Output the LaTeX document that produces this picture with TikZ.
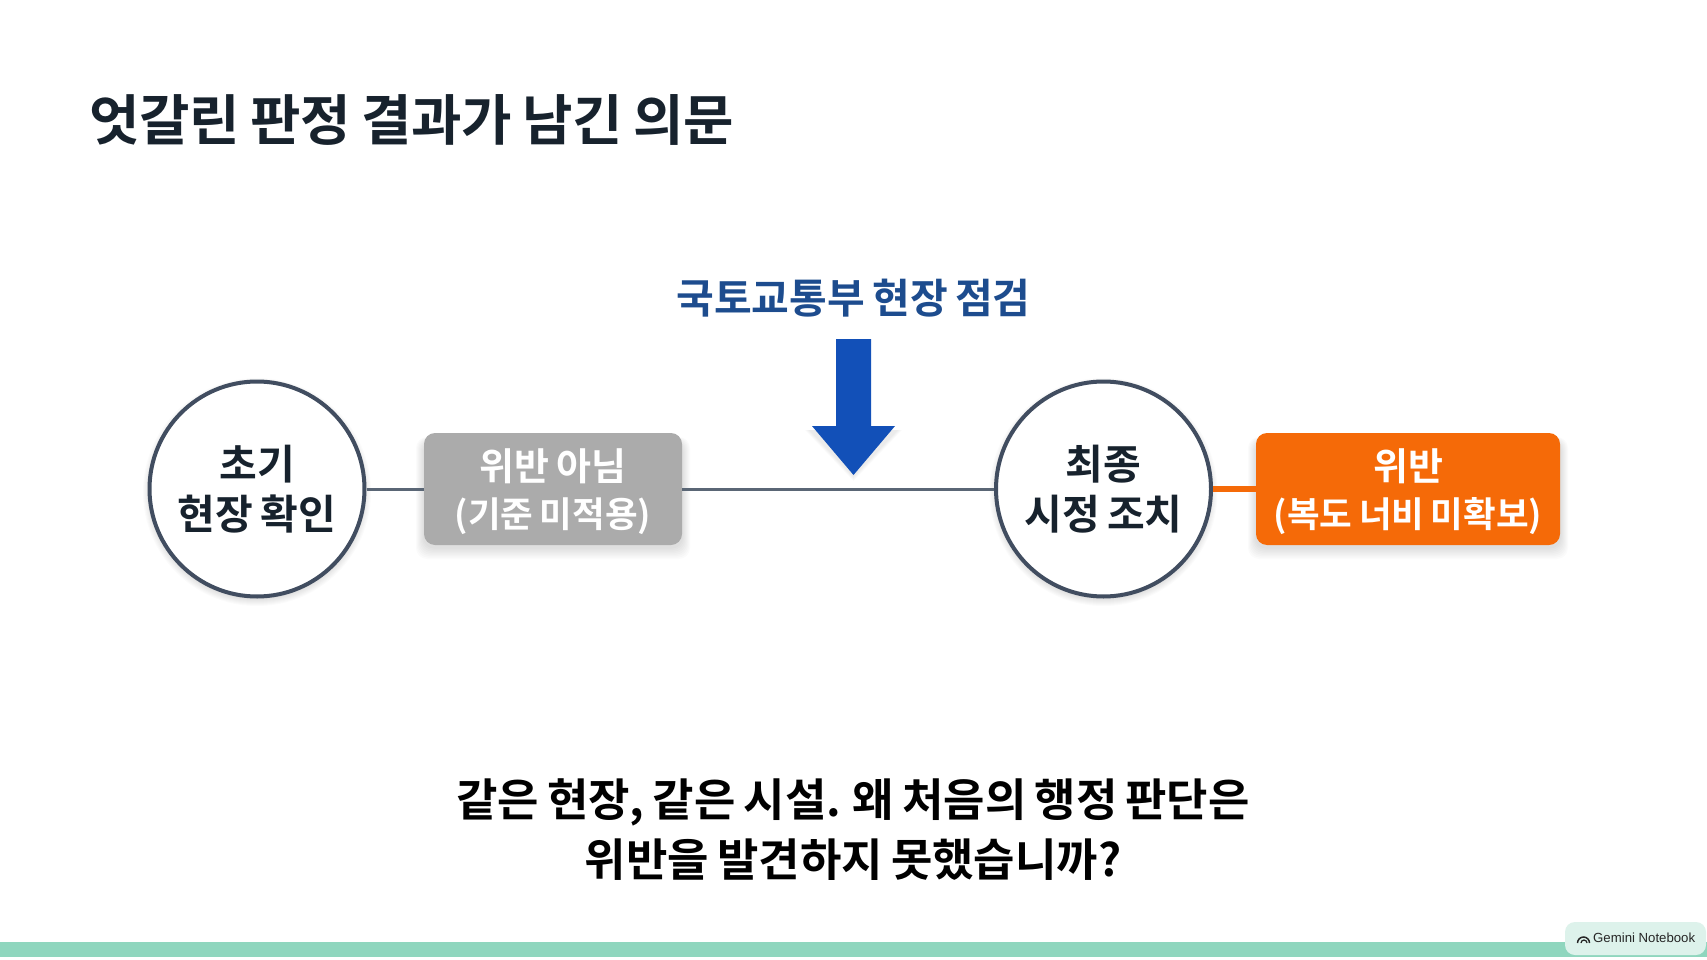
\documentclass[tikz,border=0pt]{standalone}
\usepackage{fontspec}
\setmainfont{Noto Sans CJK KR}[BoldFont={Noto Sans CJK KR Bold},WordSpace=0.8]
\newfontfamily\latinfont{Liberation Sans}
\definecolor{inkdark}{HTML}{17222D}
\definecolor{ringcol}{HTML}{414D60}
\definecolor{linecol}{HTML}{5A6675}
\definecolor{graybox}{HTML}{ABABAB}
\definecolor{orangebox}{HTML}{F56A08}
\definecolor{bluetxt}{HTML}{1D4C8E}
\definecolor{bluearrow}{HTML}{1250B8}
\definecolor{tealbar}{HTML}{8FD6BE}
\definecolor{badgecol}{HTML}{DDF2EB}
\newcommand{\boxlines}[2]{\raisebox{-3pt}[\height][\depth]{\fontsize{38}{47}\selectfont #1}\\\raisebox{-2.5pt}[\height][\depth]{\fontsize{35.5}{47}\selectfont #2}}
\tikzset{
  x=1pt,y=-1pt,
  softshadow/.style={draw=none,fill=black,fill opacity=0.014},
  ringnode/.style={circle,draw=ringcol,line width=4pt,fill=white,minimum size=215pt,inner sep=0pt,align=center,font=\bfseries\fontsize{41}{50}\selectfont,text=inkdark},
  boxnode/.style={rounded corners=11pt,minimum height=112pt,inner sep=0pt,align=center,font=\bfseries\fontsize{37}{47}\selectfont,text=white},
  titletext/.style={inner sep=0pt,text=inkdark,font=\bfseries\fontsize{54.8}{66}\selectfont},
  asktext/.style={inner sep=0pt,text=black,align=center,font=\bfseries\fontsize{45}{60}\selectfont},
}
\begin{document}
\begin{tikzpicture}
\useasboundingbox (0,0) rectangle (1707,960);
\fill[white] (0,0) rectangle (1707,960);
% bottom bar and badge
\fill[tealbar] (0,942) rectangle (1707,957);
\node[fill=badgecol,rounded corners=10pt,minimum width=141pt,minimum height=33pt,inner sep=0pt] (badge) at (1635.5,938.5) {};
\node[inner sep=0pt,text=black!85,font=\latinfont\fontsize{13.2}{16}\selectfont,anchor=west] (brand) at (1593,938) {Gemini Notebook};
\draw[black!85,line width=1.5pt] (1577.5,943) arc[start angle=180,end angle=0,radius=6pt];
\draw[black!85,line width=1.2pt] (1581,943) arc[start angle=180,end angle=0,radius=3pt];
% title
\node[titletext,anchor=center] (title) at (411.5,120) {엇갈린 판정 결과가 남긴 의문};
% soft shadows
\foreach \g in {1,...,8}{
  \fill[softshadow,rounded corners=11pt] ({424-\g},{441-\g*0.5}) rectangle ({682+\g},{547+\g*1.5});
  \fill[softshadow,rounded corners=11pt] ({1256-\g},{441-\g*0.5}) rectangle ({1560+\g},{547+\g*1.5});
  \fill[softshadow] (257,492) circle[radius={106+\g}];
  \fill[softshadow] (1103.5,492) circle[radius={106+\g}];
}
% nodes
\node[ringnode] (start) at (257,489) {초기\\현장 확인};
\node[ringnode] (final) at (1103.5,489) {최종\\시정 조치};
\node[boxnode,fill=graybox,minimum width=258pt] (notviol) at (553,489) {\boxlines{위반 아님}{(기준 미적용)}};
\node[boxnode,fill=orangebox,minimum width=304pt] (viol) at (1408,489) {\boxlines{위반}{(복도 너비 미확보)}};
% connectors
\draw[linecol,line width=3pt] (start) -- (notviol);
\draw[linecol,line width=3pt] (notviol) -- (final);
\draw[orangebox,line width=6pt] (final) -- (viol);
% inspection label and arrow
\node[inner sep=0pt,text=bluetxt,font=\bfseries\fontsize{41}{50}\selectfont] (insp) at (853.5,298) {국토교통부 현장 점검};
\foreach \g in {1,...,5}{
  \fill[softshadow] (853.5,{476+\g}) -- ({810-\g},430) -- ({897+\g},430) -- cycle;
}
\fill[bluearrow] (836,339) -- (871,339) -- (871,426) -- (895,426) -- (853.5,475) -- (812,426) -- (836,426) -- cycle;
% question
\node[asktext] (ask) at (853,829.5) {같은 현장, 같은 시설. 왜 처음의 행정 판단은\\위반을 발견하지 못했습니까?};
\end{tikzpicture}
\end{document}
